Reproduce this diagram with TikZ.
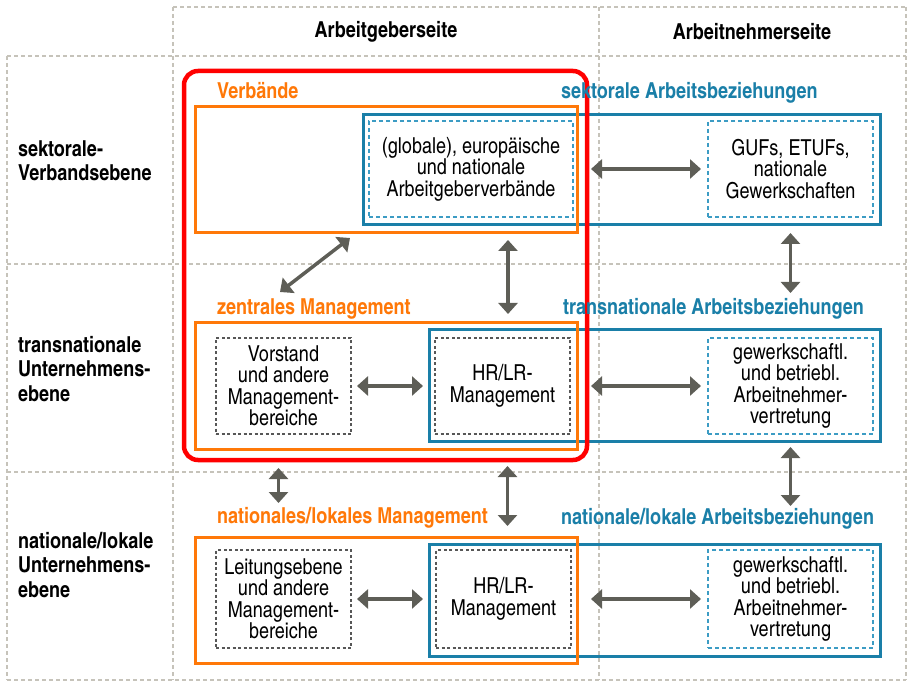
\documentclass[tikz,border=0pt]{standalone}
\usepackage{fontspec}
\setmainfont{TeX Gyre Heros Cn}
\usetikzlibrary{arrows.meta}
\definecolor{verbOrange}{HTML}{FF7808}
\definecolor{abBlue}{HTML}{1A7FA8}
\definecolor{dashBlue}{HTML}{3C9CC4}
\definecolor{arrGray}{HTML}{5E5E57}
\definecolor{gridGray}{HTML}{C6C3BA}
\definecolor{boxGray}{HTML}{575757}
\begin{document}
\begin{tikzpicture}[x=1pt,y=-1pt]
\tikzstyle{every node}=[inner sep=0pt,outer sep=0pt,font=\fontsize{22}{21.5}\selectfont]
\tikzstyle{grid}=[draw=gridGray,line width=1.2pt,dash pattern=on 4pt off 3pt]
\tikzstyle{head}=[font=\fontsize{22}{24.5}\selectfont\bfseries]
\tikzstyle{rowlabel}=[head,align=left,anchor=west]
\tikzstyle{olabel}=[head,text=verbOrange,anchor=base west]
\tikzstyle{blabel}=[head,text=abBlue,anchor=base west]
\tikzstyle{obox}=[draw=verbOrange,line width=3pt,anchor=north west]
\tikzstyle{bbox}=[draw=abBlue,line width=3pt,anchor=north west]
\tikzstyle{bdash}=[draw=dashBlue,line width=1.2pt,dash pattern=on 4pt off 3pt,anchor=north west,align=center]
\tikzstyle{gdash}=[draw=boxGray,line width=1.2pt,dash pattern=on 3pt off 2.5pt,anchor=north west,align=center]
\tikzstyle{link}=[draw=arrGray,line width=3.5pt,{Triangle[width=19pt,length=11pt]}-{Triangle[width=19pt,length=11pt]}]
\useasboundingbox (0,0) rectangle (910,692);
\draw[grid] (173,7) -- (906,7);
\foreach \y in {56,264,472,680} \draw[grid] (7,\y) -- (906,\y);
\draw[grid] (7,56) -- (7,680);
\foreach \x in {173,599,906} \draw[grid] (\x,7) -- (\x,680);
\node[head](hAG) at (386,32) {Arbeitgeberseite};
\node[head](hAN) at (752,32) {Arbeitnehmerseite};
\node[rowlabel](rSek) at (18,161) {sektorale-\\Verbandsebene};
\node[rowlabel](rTrans) at (18,369) {transnationale\\Unternehmens-\\ebene};
\node[rowlabel](rNat) at (18,565) {nationale/lokale\\Unternehmens-\\ebene};
\node[bbox,minimum width=517,minimum height=110](blA) at (363,115) {};
\node[bbox,minimum width=451,minimum height=111](blB) at (429,330) {};
\node[bbox,minimum width=451,minimum height=112](blC) at (429,544) {};
\node[obox,minimum width=382,minimum height=126](orA) at (195,107) {};
\node[obox,minimum width=382,minimum height=126](orB) at (195,323) {};
\node[obox,minimum width=382,minimum height=126](orC) at (195,537) {};
\node[draw=red,line width=4.5pt,rounded corners=14pt,anchor=north west,minimum width=403,minimum height=389](konz) at (184,71) {};
\node[olabel](lVerb) at (217,99) {Verbände};
\node[olabel](lZentral) at (217,315) {zentrales Management};
\node[olabel](lNatMan) at (217,523) {nationales/lokales Management};
\node[blabel](lSek) at (561,99) {sektorale Arbeitsbeziehungen};
\node[blabel](lTrans) at (563,315) {transnationale Arbeitsbeziehungen};
\node[blabel](lNatAB) at (561,524) {nationale/lokale Arbeitsbeziehungen};
\node[bdash,minimum width=204,minimum height=96](euA) at (369,121) {(globale), europäische\\und nationale\\Arbeitgeberverbände};
\node[bdash,minimum width=165,minimum height=96](gufA) at (708,121) {GUFs, ETUFs,\\nationale\\Gewerkschaften};
\node[gdash,minimum width=135,minimum height=96](vorB) at (216,338) {Vorstand\\und andere\\Management-\\bereiche};
\node[gdash,minimum width=135,minimum height=96](hrB) at (435,338) {HR/LR-\\Management};
\node[bdash,minimum width=165,minimum height=96](gewB) at (708,338) {gewerkschaftl.\\und betriebl.\\Arbeitnehmer-\\vertretung};
\node[gdash,minimum width=135,minimum height=98](leitC) at (216,550) {Leitungsebene\\und andere\\Management-\\bereiche};
\node[gdash,minimum width=135,minimum height=98](hrC) at (436,550) {HR/LR-\\Management};
\node[bdash,minimum width=165,minimum height=98](gewC) at (708,550) {gewerkschaftl.\\und betriebl.\\Arbeitnehmer-\\vertretung};
\draw[link,shorten <=18pt,shorten >=7pt] (euA.east) -- (gufA.west);
\draw[link] ([xshift=-36pt,yshift=-5pt]orA.south) -- ([xshift=-106pt,yshift=31pt]orB.north);
\draw[link,shorten <=7pt,shorten >=9pt] ([xshift=122pt]orA.south) -- ([xshift=122pt]orB.north);
\draw[link,shorten <=16pt,shorten >=45pt] (gufA.south) -- (gewB.north);
\draw[link,shorten <=6pt,shorten >=12pt] (vorB.east) -- (hrB.west);
\draw[link,shorten <=21pt,shorten >=7pt] (hrB.east) -- (gewB.west);
\draw[link,shorten <=34pt,shorten >=47pt] ([xshift=-5pt]vorB.south) -- ([xshift=-5pt]leitC.north);
\draw[link,shorten <=32pt,shorten >=24pt] ([xshift=5pt]hrB.south) -- ([xshift=4pt]hrC.north);
\draw[link,shorten <=13pt,shorten >=44pt] (gewB.south) -- (gewC.north);
\draw[link,shorten <=6pt,shorten >=13pt] (leitC.east) -- (hrC.west);
\draw[link,shorten <=20pt,shorten >=7pt] (hrC.east) -- (gewC.west);
\end{tikzpicture}
\end{document}
